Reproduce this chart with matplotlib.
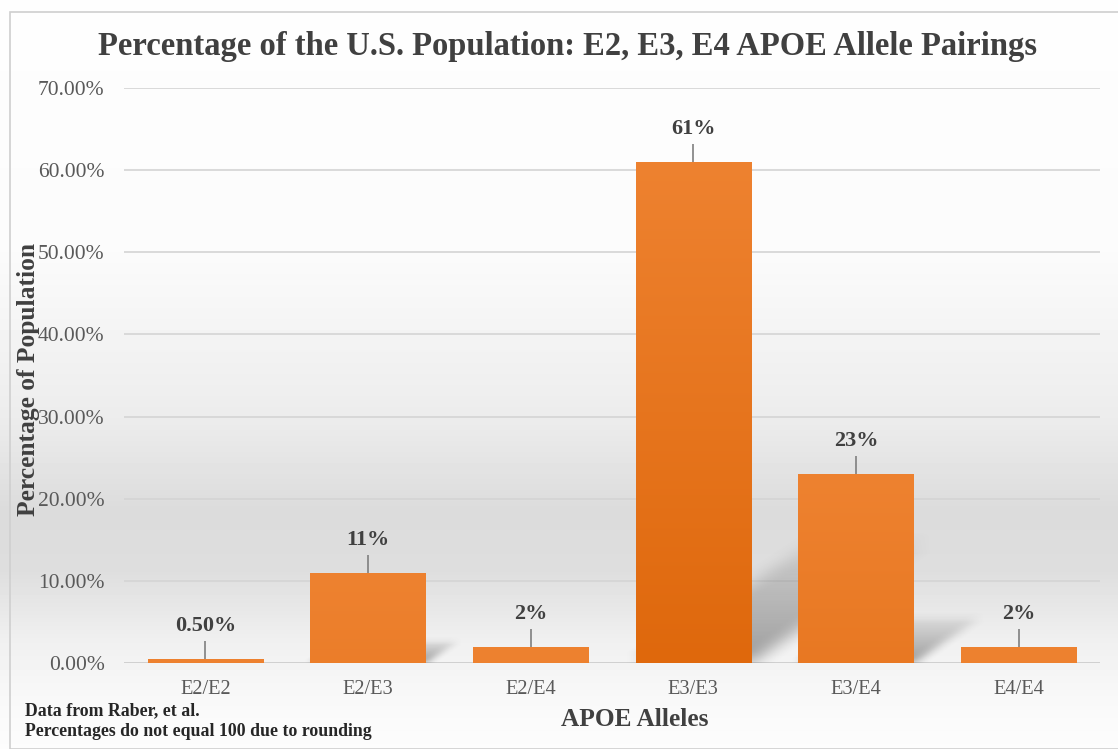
import numpy as np
import matplotlib.pyplot as plt
from matplotlib.patches import Rectangle
from matplotlib.colors import LinearSegmentedColormap
from matplotlib.ticker import FuncFormatter

alleles = ["E2/E2", "E2/E3", "E2/E4", "E3/E3", "E3/E4", "E4/E4"]
share = [0.005, 0.11, 0.02, 0.61, 0.23, 0.02]
bar_labels = ["0.50%", "11%", "2%", "61%", "23%", "2%"]
shadowed = ["E2/E3", "E3/E3", "E3/E4"]

plt.rcParams["font.family"] = ["Liberation Serif", "DejaVu Serif"]

W, H = 1118, 749
fig = plt.figure(figsize=(W / 100, H / 100), dpi=100)
fig.patch.set_facecolor("white")

# background: soft grey band across the middle
bg = fig.add_axes([0, 0, 1, 1], zorder=-10)
rows = np.arange(H)
shade = np.interp(rows, [0, 250, 420, 510, 570, 640, 700, 749],
                  [0.995, 0.985, 0.925, 0.86, 0.87, 0.94, 0.975, 0.99])
bg.imshow(np.repeat(shade[:, None], 4, axis=1), cmap="gray", vmin=0, vmax=1,
          aspect="auto", extent=[0, 1, 0, 1], origin="upper")
bg.add_patch(Rectangle((10 / W, 0), 1, 1 - 12 / H, fill=False,
                       ec="#cfcfcf", lw=1.2, transform=bg.transAxes))
bg.set_axis_off()

ax = fig.add_axes([124 / W, 1 - 663 / H, (1100 - 124) / W, (663 - 88) / H])
ax.patch.set_alpha(0)
x = np.arange(len(alleles))
width = 0.71

ax.set_yticks(np.arange(0, 0.71, 0.10))
ax.yaxis.set_major_formatter(FuncFormatter(lambda v, _: f"{v * 100:.2f}%"))
ax.set_xticks(x, alleles)
ax.tick_params(length=0, labelcolor="#595959")
ax.tick_params(axis="x", labelsize=14.7, pad=12)
ax.tick_params(axis="y", labelsize=15.5, pad=14)
ax.grid(axis="y", color="#d4d4d4", lw=1.2)
ax.set_axisbelow(True)
for s in ax.spines.values():
    s.set_visible(False)
ax.axhline(0, color="#cfcfcf", lw=1.2, zorder=1)


def blur(a, n):
    k = np.ones(n) / n
    a = np.apply_along_axis(lambda r: np.convolve(r, k, mode="same"), 1, a)
    return np.apply_along_axis(lambda c: np.convolve(c, k, mode="same"), 0, a)


# soft shadows cast to the right of the taller bars
for xi, name, v in zip(x, alleles, share):
    if name not in shadowed:
        continue
    r = xi + width / 2
    l = xi - width / 2
    dx, dy = v * 1.75, v * 0.24
    x0, x1 = l - 0.1, r + dx + 0.15
    y0, y1 = -0.02, dy + 0.02
    gx, gy = np.meshgrid(np.linspace(x0, x1, 240), np.linspace(y0, y1, 120))
    t = gy / dy
    inside = (t >= 0) & (t <= 1) & (gx >= l + dx * t) & (gx <= r + dx * t)
    m = blur(inside.astype(float), 17)
    fadeout = np.clip(1.05 - 0.85 * np.clip(t, 0, 1), 0, 1)
    img = np.zeros(m.shape + (4,))
    img[..., :3] = 0.3
    img[..., 3] = 0.5 * m * fadeout
    ax.imshow(img, aspect="auto", origin="lower", extent=[x0, x1, y0, y1],
              zorder=1.5, interpolation="bilinear", clip_on=True)

# bars with vertical orange gradient (lighter at the top)
cmap = LinearSegmentedColormap.from_list("o", ["#DF680C", "#EE8230"])
grad = np.linspace(0, 1, 256)[:, None]
bars = ax.bar(x, share, width=width, color="#EA7A24", zorder=2)
for b, v in zip(bars, share):
    lo = max(0.0, 1 - v / 0.61)
    sub = LinearSegmentedColormap.from_list("s", [cmap(lo), cmap(1.0)])
    im = ax.imshow(grad, cmap=sub, aspect="auto", origin="lower",
                   extent=[b.get_x(), b.get_x() + b.get_width(), 0, v],
                   zorder=2.1)
    im.set_clip_path(b)
ax.set_xlim(-0.5, len(alleles) - 0.5)
ax.set_ylim(0, 0.70)

# value labels with leader lines
for xi, v, t in zip(x, share, bar_labels):
    ax.vlines(xi, v, v + 0.022, color="#7f7f7f", lw=1.2, zorder=3)
    ax.text(xi, v + 0.040, t, ha="center", va="center", fontsize=16,
            fontweight="bold", color="#404040", zorder=3)

fig.text(567 / W, 1 - 47 / H,
         "Percentage of the U.S. Population: E2, E3, E4 APOE Allele Pairings",
         ha="center", va="center", fontsize=23.5, fontweight="bold",
         color="#404040")
fig.text(29 / W, 1 - 380 / H, "Percentage of Population", rotation=90,
         ha="center", va="center", fontsize=18.4, fontweight="bold",
         color="#404040")
fig.text(635 / W, 1 - 720 / H, "APOE Alleles", ha="center", va="center",
         fontsize=18.3, fontweight="bold", color="#404040")
fig.text(25 / W, 1 - 711 / H, "Data from Raber, et al.", ha="left",
         va="center", fontsize=12.8, fontweight="bold", color="#262626")
fig.text(25 / W, 1 - 731 / H, "Percentages do not equal 100 due to rounding",
         ha="left", va="center", fontsize=12.8, fontweight="bold",
         color="#262626")

fig.savefig("out.png", dpi=100, facecolor="white")
